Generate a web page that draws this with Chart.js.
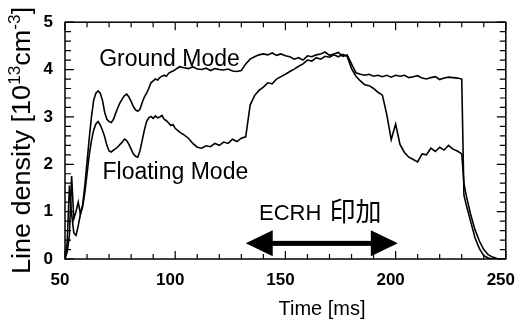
<!DOCTYPE html>
<html>
<head>
<meta charset="utf-8">
<script src="https://cdn.jsdelivr.net/npm/chart.js@4.4.1/dist/chart.umd.min.js"></script>
<style>
  html, body { margin: 0; padding: 0; background: #fff; }
  #wrap { width: 531px; height: 327px; }
</style>
</head>
<body>
<div id="wrap"><canvas id="densityChart" width="531" height="327"></canvas></div>
<script>
// time [ms] and line density [10^13 cm^-3]
const timeMs = [
  50, 51, 52, 53, 54, 55, 56, 57, 58, 59,
  60, 61, 62, 63, 64, 65, 66, 67, 68, 69,
  70, 71, 72, 73, 74, 75, 76, 77, 78, 79,
  80, 81, 82, 83, 84, 85, 86, 87, 88, 89,
  90, 91, 92, 93, 94, 95, 96, 97, 98, 99,
  100, 102, 104, 106, 108, 110, 112, 114, 116, 118,
  120, 122, 124, 126, 128, 130, 132, 134, 136, 138,
  140, 142, 144, 146, 148, 150, 152, 154, 156, 158,
  160, 162, 164, 166, 168, 170, 172, 174, 176, 178,
  180, 182, 184, 186, 188, 190, 192, 194, 196, 198,
  200, 202, 204, 206, 208, 210, 212, 214, 216, 218,
  220, 222, 224, 226, 228, 230, 231, 232, 234, 236,
  238, 240, 242, 244, 246, 248, 250
];

const groundMode = [
  0.0, 0.15, 0.5, 1.75, 0.85, 1.0, 1.2, 0.95, 1.15, 1.55,
  2.05, 2.55, 3.0, 3.35, 3.5, 3.55, 3.5, 3.35, 3.1, 2.95,
  2.9, 2.88, 2.95, 3.08, 3.2, 3.3, 3.38, 3.45, 3.48, 3.42,
  3.33, 3.22, 3.15, 3.12, 3.16, 3.3, 3.42, 3.5, 3.6, 3.72,
  3.76, 3.8, 3.78, 3.83, 3.86, 3.88, 3.86, 3.92, 3.95, 3.97,
  4.0, 4.06, 4.04, 4.02, 4.06, 4.01, 4.0, 4.03, 3.98, 4.02,
  4.0, 3.99, 4.01, 3.97, 3.96, 3.98, 4.12, 4.22, 4.27, 4.31,
  4.33, 4.31, 4.35, 4.3, 4.33, 4.29, 4.27, 4.22, 4.25, 4.2,
  4.29, 4.27, 4.31, 4.33, 4.37, 4.3, 4.33, 4.36, 4.28, 4.31,
  4.12, 3.93, 3.9, 3.88, 3.9, 3.86, 3.88, 3.85, 3.88, 3.84,
  3.88, 3.86, 3.88, 3.83, 3.85, 3.87, 3.82, 3.8, 3.83, 3.85,
  3.79, 3.82, 3.84, 3.83, 3.82, 3.8, 1.35, 1.15, 0.8, 0.45,
  0.22, 0.07, 0.02, 0.0, 0.0, 0.0, 0.0
];

const floatingMode = [
  0.0, 0.35, 1.55, 0.95, 0.55, 0.5, 0.7, 0.95, 1.1, 1.4,
  1.8, 2.2, 2.5, 2.72, 2.85, 2.9, 2.83, 2.72, 2.58, 2.4,
  2.28, 2.26, 2.3, 2.33, 2.37, 2.42, 2.47, 2.53, 2.5, 2.42,
  2.32, 2.22, 2.17, 2.15, 2.28, 2.5, 2.72, 2.9, 2.98, 3.01,
  2.97, 3.02, 2.98, 3.0, 3.03, 2.95, 2.92, 2.87, 2.82, 2.84,
  2.76, 2.68, 2.62, 2.55, 2.44, 2.36, 2.34, 2.39, 2.37, 2.44,
  2.4, 2.47, 2.44, 2.53, 2.48, 2.55, 2.58, 3.25, 3.45, 3.56,
  3.63, 3.72, 3.7, 3.8, 3.85, 3.9, 3.96, 4.01, 4.07, 4.12,
  4.2, 4.18, 4.25, 4.22, 4.28, 4.26, 4.31, 4.27, 4.32, 4.28,
  4.02, 3.86, 3.76, 3.68, 3.66, 3.6, 3.52, 3.46, 3.05, 2.52,
  2.85, 2.42, 2.25, 2.15, 2.1, 2.05, 2.22, 2.2, 2.34, 2.27,
  2.36, 2.3, 2.4, 2.32, 2.28, 2.22, 1.6, 1.35, 0.95, 0.62,
  0.38, 0.2, 0.09, 0.04, 0.01, 0.0, 0.0
];

const xTicks = [50, 100, 150, 200, 250];
const yTicks = [0, 1, 2, 3, 4, 5];

// ECRH heating window [ms]
const ecrhWindow = [132, 201];

const FONT = "'Liberation Sans', Arial, 'Noto Sans CJK JP', sans-serif";
const CJK_FONT = "'Noto Sans CJK JP', sans-serif";

function toXY(values) {
  return values.map((v, i) => ({ x: timeMs[i], y: v }));
}

// frame plus inward ticks on all four sides (minor every 10 ms / 0.2)
const frameTicks = {
  id: 'frameTicks',
  afterDatasetsDraw(chart) {
    const { ctx, chartArea: a, scales: { x, y } } = chart;
    ctx.save();
    ctx.strokeStyle = '#000';
    ctx.lineWidth = 1.5;
    ctx.strokeRect(a.left, a.top, a.right - a.left, a.bottom - a.top);
    ctx.lineWidth = 1.2;
    ctx.beginPath();
    for (let v = 50; v <= 250; v += 10) {
      const px = x.getPixelForValue(v);
      const len = v % 50 === 0 ? 8 : 5;
      ctx.moveTo(px, a.bottom); ctx.lineTo(px, a.bottom - len);
      ctx.moveTo(px, a.top); ctx.lineTo(px, a.top + len);
    }
    for (let i = 0; i <= 25; i++) {
      const py = y.getPixelForValue(i / 5);
      const len = i % 5 === 0 ? 9 : 6;
      ctx.moveTo(a.left, py); ctx.lineTo(a.left + len, py);
      ctx.moveTo(a.right, py); ctx.lineTo(a.right - len, py);
    }
    ctx.stroke();
    ctx.restore();
  }
};

// curve labels and the ECRH double arrow
const notes = {
  id: 'notes',
  afterDatasetsDraw(chart) {
    const { ctx, scales: { x, y } } = chart;
    ctx.save();
    ctx.fillStyle = '#000';
    ctx.textAlign = 'left';
    ctx.textBaseline = 'alphabetic';
    ctx.font = '23px ' + FONT;
    ctx.fillText('Ground Mode', x.getPixelForValue(65.5), y.getPixelForValue(4.08));
    ctx.fillText('Floating Mode', x.getPixelForValue(67), y.getPixelForValue(1.68));

    const ex = x.getPixelForValue(138);
    const ey = y.getPixelForValue(0.82);
    ctx.font = '22px ' + FONT;
    ctx.fillText('ECRH', ex, ey);
    const w = ctx.measureText('ECRH ').width;
    ctx.font = '26px ' + CJK_FONT;
    ctx.fillText('印加', ex + w + 2, ey + 1);

    // double-headed arrow over the heating window
    const x0 = x.getPixelForValue(ecrhWindow[0]);
    const x1 = x.getPixelForValue(ecrhWindow[1]);
    const yc = y.getPixelForValue(0.33);
    const head = 27, half = 13;
    ctx.fillRect(x0 + head - 1, yc - 2.5, (x1 - x0) - 2 * head + 2, 5);
    ctx.beginPath();
    ctx.moveTo(x0, yc);
    ctx.lineTo(x0 + head, yc - half);
    ctx.lineTo(x0 + head, yc + half);
    ctx.closePath();
    ctx.moveTo(x1, yc);
    ctx.lineTo(x1 - head, yc - half);
    ctx.lineTo(x1 - head, yc + half);
    ctx.closePath();
    ctx.fill();
    ctx.restore();
  }
};

// axis titles (y title has superscripts, so it is drawn by hand)
const titles = {
  id: 'titles',
  afterDraw(chart) {
    const { ctx } = chart;
    ctx.save();
    ctx.fillStyle = '#000';
    ctx.textBaseline = 'alphabetic';
    ctx.textAlign = 'center';
    ctx.font = '20px ' + FONT;
    ctx.fillText('Time [ms]', 322, 315);

    ctx.translate(30, 274);
    ctx.rotate(-Math.PI / 2);
    ctx.scale(1.08, 1);
    ctx.textAlign = 'left';
    const parts = [
      { t: 'Line density [10', sup: false },
      { t: '13', sup: true },
      { t: 'cm', sup: false },
      { t: '-3', sup: true },
      { t: ']', sup: false }
    ];
    let cx = 0;
    for (const p of parts) {
      ctx.font = (p.sup ? '16px ' : '25px ') + FONT;
      ctx.fillText(p.t, cx, p.sup ? -10 : 0);
      cx += ctx.measureText(p.t).width;
    }
    ctx.restore();
  }
};

const tickFont = { family: FONT, size: 17, weight: 'bold' };

new Chart(document.getElementById('densityChart'), {
  type: 'line',
  data: {
    datasets: [
      { label: 'Ground Mode', data: toXY(groundMode), borderColor: '#000', borderWidth: 1.6, pointRadius: 0, tension: 0 },
      { label: 'Floating Mode', data: toXY(floatingMode), borderColor: '#000', borderWidth: 1.6, pointRadius: 0, tension: 0 }
    ]
  },
  options: {
    responsive: false,
    animation: false,
    devicePixelRatio: 1,
    layout: { padding: { top: 18, right: 19, left: 0, bottom: 0 } },
    plugins: { legend: { display: false }, tooltip: { enabled: false } },
    scales: {
      x: {
        type: 'linear', min: 50, max: 250,
        afterBuildTicks: s => { s.ticks = xTicks.map(v => ({ value: v })); },
        afterFit: s => { s.height = 68; },
        grid: { display: false, drawTicks: false }, border: { display: false },
        ticks: { font: tickFont, color: '#000', padding: 11, labelOffset: -5, maxRotation: 0, autoSkip: false }
      },
      y: {
        min: 0, max: 5,
        afterBuildTicks: s => { s.ticks = yTicks.map(v => ({ value: v })); },
        afterFit: s => { s.width = 65; },
        grid: { display: false, drawTicks: false }, border: { display: false },
        ticks: { font: tickFont, color: '#000', padding: 12 }
      }
    }
  },
  plugins: [frameTicks, notes, titles]
});
</script>
</body>
</html>
